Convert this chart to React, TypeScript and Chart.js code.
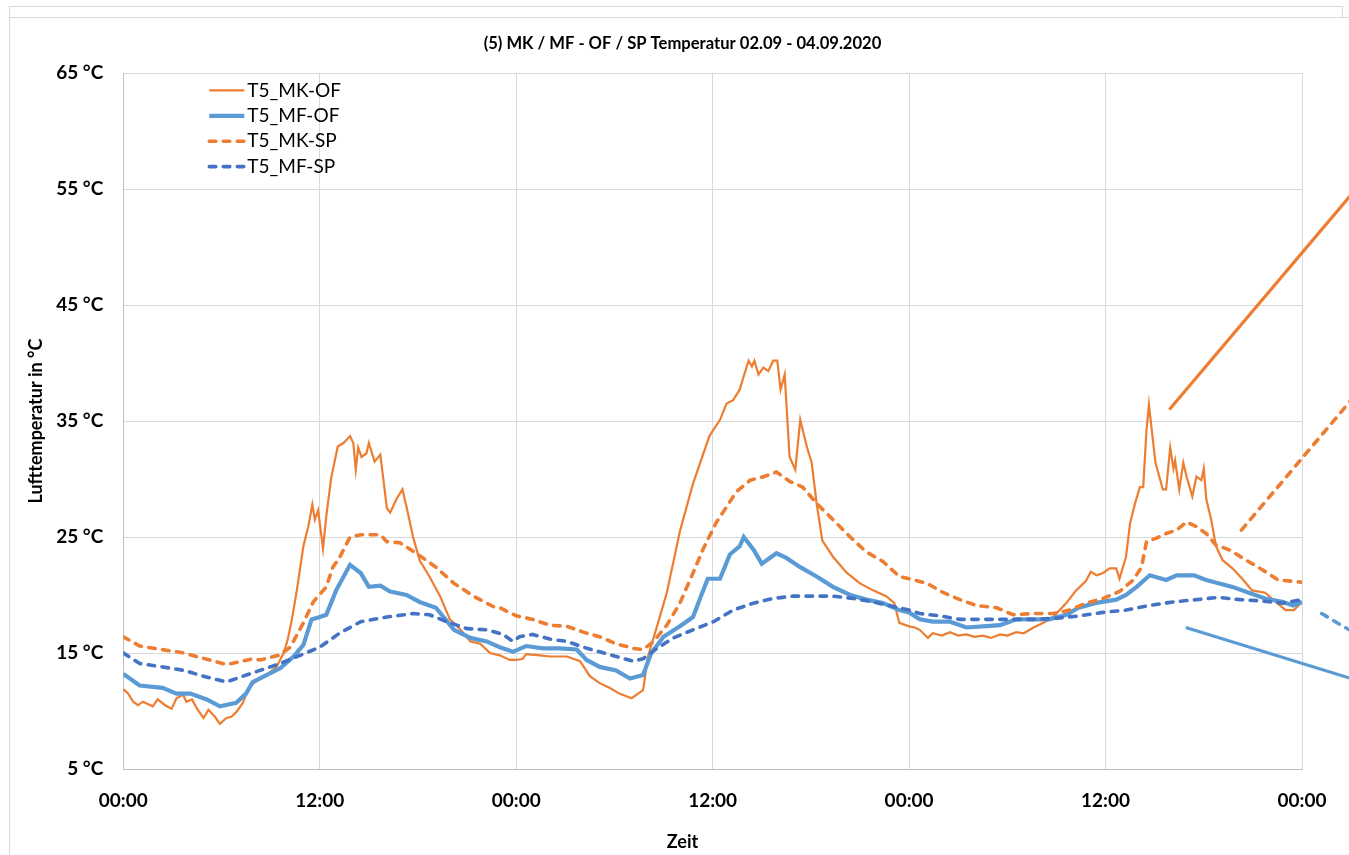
import React, { useEffect, useRef } from 'react';
import { Chart, registerables } from 'chart.js';

Chart.register(...registerables);

// ---------- data (hours since 02.09 00:00, °C) ----------
const mkOfHours = [0, 0.3, 0.6, 0.9, 1.2, 1.8, 2.1, 2.55, 2.95, 3.25, 3.65, 3.85, 4.2, 4.5, 4.9, 5.2, 5.6, 5.9, 6.3, 6.6, 6.9, 7.3, 7.7, 8.25, 8.75, 9.35, 9.8, 10.05, 10.3, 10.6, 11.0, 11.3, 11.55, 11.7, 11.9, 12.2, 12.4, 12.7, 13.1, 13.45, 13.85, 14.05, 14.2, 14.35, 14.55, 14.85, 15.0, 15.35, 15.7, 16.1, 16.3, 16.7, 17.05, 17.3, 17.7, 18.1, 18.7, 19.35, 19.95, 20.55, 21.2, 21.8, 22.4, 23.0, 23.6, 24.0, 24.4, 24.6, 25.45, 26.05, 27.1, 27.9, 28.5, 29.1, 29.7, 30.3, 31.05, 31.75, 32.05, 32.6, 33.2, 34.0, 34.8, 35.8, 36.45, 36.85, 37.25, 37.65, 37.95, 38.2, 38.4, 38.55, 38.8, 39.1, 39.4, 39.7, 39.95, 40.15, 40.4, 40.7, 41.05, 41.35, 41.75, 42.05, 42.35, 42.7, 43.35, 44.2, 45.0, 45.8, 46.6, 47.1, 47.4, 48.0, 48.35, 48.65, 49.15, 49.45, 50.0, 50.5, 51.0, 51.5, 52.0, 52.5, 53.0, 53.55, 54.0, 54.55, 55.0, 55.6, 56.2, 56.8, 57.6, 58.2, 58.8, 59.1, 59.45, 59.85, 60.25, 60.65, 60.85, 61.25, 61.5, 61.8, 62.1, 62.3, 62.5, 62.65, 62.8, 63.05, 63.5, 63.7, 63.95, 64.15, 64.25, 64.5, 64.75, 64.95, 65.3, 65.55, 65.85, 66.0, 66.15, 66.45, 66.75, 67.15, 67.75, 68.35, 68.95, 69.75, 70.4, 71.0, 71.5, 72.0];
const mkOfTemps = [11.9, 11.5, 10.8, 10.5, 10.8, 10.4, 11.0, 10.5, 10.2, 11.1, 11.4, 10.8, 11.0, 10.2, 9.4, 10.1, 9.5, 8.9, 9.4, 9.5, 9.9, 10.7, 12.1, 12.7, 13.1, 13.8, 15.0, 16.2, 17.9, 20.4, 24.2, 25.9, 27.8, 26.5, 27.3, 24.0, 26.8, 30.1, 32.8, 33.1, 33.7, 33.1, 30.8, 32.7, 31.9, 32.2, 33.1, 31.5, 32.1, 27.5, 27.1, 28.3, 29.1, 27.6, 25.0, 23.0, 21.6, 19.9, 17.9, 17.1, 16.0, 15.8, 15.0, 14.8, 14.4, 14.4, 14.5, 14.9, 14.8, 14.7, 14.7, 14.3, 13.0, 12.4, 12.0, 11.5, 11.1, 11.8, 14.7, 17.3, 20.2, 25.5, 29.6, 33.7, 35.1, 36.5, 36.8, 37.7, 39.1, 40.2, 39.7, 40.2, 39.0, 39.6, 39.3, 40.2, 40.2, 37.7, 39.0, 31.9, 30.8, 35.1, 32.8, 31.4, 27.9, 24.7, 23.3, 21.9, 21.0, 20.4, 19.9, 19.3, 17.6, 17.3, 17.2, 17.0, 16.3, 16.7, 16.5, 16.8, 16.5, 16.6, 16.4, 16.5, 16.3, 16.6, 16.5, 16.8, 16.7, 17.2, 17.6, 18.1, 19.3, 20.4, 21.2, 22.0, 21.7, 21.9, 22.3, 22.3, 21.4, 23.3, 26.2, 27.9, 29.3, 29.3, 34.2, 36.4, 34.5, 31.4, 29.1, 29.1, 32.7, 30.9, 31.6, 29.1, 31.4, 30.2, 28.5, 30.2, 29.9, 30.9, 28.3, 26.5, 24.2, 23.0, 22.3, 21.4, 20.4, 20.2, 19.4, 18.7, 18.7, 19.4];

const mfOfHours = [0, 1, 2.4, 3.25, 4.1, 5.1, 5.9, 6.9, 7.5, 7.9, 8.75, 9.6, 10.4, 11.0, 11.5, 12.0, 12.4, 13.0, 13.85, 14.5, 15.0, 15.7, 16.3, 17.3, 18.1, 19.1, 20.2, 21.2, 22.2, 23.0, 23.8, 24.6, 25.65, 26.65, 27.7, 28.3, 29.1, 30.1, 30.95, 31.75, 32.25, 33.0, 34.0, 34.8, 35.2, 35.7, 36.45, 37.05, 37.65, 37.9, 38.5, 39.0, 39.9, 40.5, 41.35, 42.35, 43.35, 44.4, 45.4, 46.4, 47.4, 48.0, 48.65, 49.45, 50.5, 51.5, 52.5, 53.55, 54.55, 55.6, 56.55, 57.6, 58.35, 59.35, 60.65, 61.25, 61.9, 62.7, 63.7, 64.35, 65.4, 66.15, 66.95, 67.75, 68.75, 69.75, 70.85, 71.45, 72.0];
const mfOfTemps = [13.2, 12.2, 12.0, 11.5, 11.5, 11.0, 10.4, 10.7, 11.5, 12.5, 13.1, 13.7, 14.7, 15.7, 17.9, 18.1, 18.3, 20.4, 22.6, 21.9, 20.7, 20.8, 20.3, 20.0, 19.4, 18.9, 17.0, 16.3, 16.0, 15.5, 15.1, 15.6, 15.4, 15.4, 15.3, 14.4, 13.8, 13.5, 12.8, 13.1, 15.0, 16.4, 17.3, 18.1, 19.6, 21.4, 21.4, 23.5, 24.2, 25.0, 23.9, 22.7, 23.6, 23.2, 22.4, 21.6, 20.7, 20.0, 19.6, 19.3, 18.7, 18.5, 17.9, 17.7, 17.7, 17.2, 17.3, 17.4, 17.9, 17.9, 17.9, 18.3, 18.9, 19.3, 19.6, 20.0, 20.7, 21.7, 21.3, 21.7, 21.7, 21.3, 21.0, 20.7, 20.2, 19.7, 19.4, 19.1, 19.4];

const mkSpHours = [0, 1, 3.7, 6.3, 7.9, 8.35, 9.5, 10.2, 11.0, 11.6, 12.4, 12.8, 13.2, 13.85, 14.5, 15.7, 16.1, 16.9, 17.9, 19.1, 20.2, 21.4, 22.6, 23.0, 24.0, 25.0, 26.05, 27.1, 28.1, 29.1, 30.1, 31.15, 31.75, 32.4, 33.2, 34.0, 34.8, 35.4, 36.2, 36.85, 37.45, 38.3, 39.1, 39.9, 40.7, 41.5, 42.35, 43.35, 44.4, 45.4, 46.4, 47.4, 48.0, 49.1, 50.1, 51.1, 52.1, 53.35, 54.35, 55.6, 56.8, 57.8, 58.8, 59.85, 60.85, 61.7, 62.2, 62.5, 63.1, 63.7, 64.35, 64.95, 65.55, 66.15, 66.75, 67.55, 68.6, 69.55, 70.55, 72.0];
const mkSpTemps = [16.4, 15.6, 15.0, 14.0, 14.5, 14.4, 14.8, 15.5, 17.6, 19.4, 20.7, 22.4, 23.2, 25.0, 25.2, 25.2, 24.6, 24.5, 23.6, 22.4, 21.0, 19.9, 19.0, 18.9, 18.2, 17.9, 17.4, 17.3, 16.8, 16.4, 15.8, 15.4, 15.3, 16.0, 17.4, 19.3, 21.9, 23.9, 26.2, 27.6, 28.9, 29.9, 30.2, 30.6, 29.8, 29.3, 27.9, 26.5, 25.0, 23.7, 22.9, 21.6, 21.4, 21.0, 20.2, 19.6, 19.1, 18.9, 18.3, 18.4, 18.4, 18.7, 19.3, 19.7, 20.3, 21.3, 22.4, 24.6, 24.9, 25.3, 25.6, 26.3, 25.9, 25.3, 24.3, 23.9, 23.0, 22.2, 21.3, 21.1];

const mfSpHours = [0, 1, 2.4, 3.7, 4.9, 6.3, 7.3, 8.35, 9.6, 10.8, 12.0, 13.2, 14.5, 16.1, 17.7, 18.7, 19.75, 21.0, 22.2, 23.2, 23.8, 24.2, 25.0, 26.05, 27.1, 28.1, 29.1, 30.1, 31.15, 31.75, 32.6, 33.6, 34.8, 36.05, 37.25, 38.5, 39.7, 40.9, 42.15, 43.35, 44.6, 45.8, 47.05, 48.0, 48.65, 49.9, 51.1, 52.5, 53.95, 55.6, 57.0, 58.4, 59.85, 61.25, 62.7, 64.1, 65.55, 66.9, 68.2, 69.4, 70.85, 72.0];
const mfSpTemps = [15.0, 14.1, 13.8, 13.5, 13.0, 12.5, 13.0, 13.5, 14.1, 14.8, 15.5, 16.7, 17.7, 18.1, 18.4, 18.3, 17.7, 17.1, 17.0, 16.6, 16.0, 16.4, 16.6, 16.2, 16.0, 15.5, 15.1, 14.7, 14.3, 14.5, 15.4, 16.3, 17.0, 17.7, 18.7, 19.3, 19.7, 19.9, 19.9, 19.9, 19.7, 19.4, 19.0, 18.7, 18.4, 18.2, 17.9, 17.9, 17.9, 17.9, 18.0, 18.2, 18.5, 18.7, 19.1, 19.4, 19.6, 19.8, 19.6, 19.5, 19.3, 19.6];

// stray straight segments that run off the right edge of the picture
const mkOfStrayHours = [63.9, 75];
const mkOfStrayTemps = [36.0, 54.5];
const mkSpStrayHours = [68.3, 75];
const mkSpStrayTemps = [25.6, 36.8];
const mfOfStrayHours = [64.9, 75];
const mfOfStrayTemps = [17.2, 12.8];
const mfSpStrayHours = [73.2, 75];
const mfSpStrayTemps = [18.4, 16.9];

const xTicks = [0, 12, 24, 36, 48, 60, 72];
const xTickLabels = ['00:00', '12:00', '00:00', '12:00', '00:00', '12:00', '00:00'];

const ORANGE = '#ED7D31';
const LIGHTBLUE = '#5B9BD5';
const BLUE = '#4472C4';
const FONT = 'Lato';

const pts = (xs: number[], ys: number[]) => xs.map((x, i) => ({ x, y: ys[i] }));

const legendPlugin = {
  id: 'insideLegend',
  afterDraw(chart: any) {
    const { ctx, chartArea } = chart;
    const items = chart.data.datasets.slice(0, 4);
    ctx.save();
    ctx.font = `19px ${FONT}`;
    ctx.textBaseline = 'middle';
    ctx.textAlign = 'left';
    items.forEach((ds: any, i: number) => {
      const y = chartArea.top + 17.4 + i * 25.4;
      const x0 = chartArea.left + 86;
      ctx.strokeStyle = ds.borderColor;
      ctx.lineWidth = ds.borderWidth;
      ctx.lineCap = ds.borderCapStyle || 'butt';
      ctx.setLineDash(ds.borderDash || []);
      ctx.beginPath();
      ctx.moveTo(x0, y);
      ctx.lineTo(x0 + 35, y);
      ctx.stroke();
      ctx.setLineDash([]);
      ctx.fillStyle = '#000';
      ctx.fillText(ds.label, x0 + 38, y);
    });
    ctx.restore();
  },
};

export default function App() {
  const ref = useRef<HTMLCanvasElement>(null);
  useEffect(() => {
    const solid = { pointRadius: 0, tension: 0, fill: false, yAxisID: 'y' };
    const dashed = { ...solid, borderDash: [6.5, 7.5], borderCapStyle: 'round', borderWidth: 3.6 };
    const chart = new Chart(ref.current as HTMLCanvasElement, {
      type: 'line',
      data: {
        datasets: [
          { ...solid, label: 'T5_MK-OF', data: pts(mkOfHours, mkOfTemps), borderColor: ORANGE, borderWidth: 2.2, order: 4 },
          { ...solid, label: 'T5_MF-OF', data: pts(mfOfHours, mfOfTemps), borderColor: LIGHTBLUE, borderWidth: 4.2, order: 3 },
          { ...dashed, label: 'T5_MK-SP', data: pts(mkSpHours, mkSpTemps), borderColor: ORANGE, order: 2 },
          { ...dashed, label: 'T5_MF-SP', data: pts(mfSpHours, mfSpTemps), borderColor: BLUE, order: 1 },
          { ...solid, label: '', data: pts(mkOfStrayHours, mkOfStrayTemps), borderColor: ORANGE, borderWidth: 3.2, clip: false },
          { ...dashed, label: '', data: pts(mkSpStrayHours, mkSpStrayTemps), borderColor: ORANGE, clip: false },
          { ...solid, label: '', data: pts(mfOfStrayHours, mfOfStrayTemps), borderColor: LIGHTBLUE, borderWidth: 3.2, clip: false },
          { ...dashed, label: '', data: pts(mfSpStrayHours, mfSpStrayTemps), borderColor: LIGHTBLUE, clip: false },
        ] as any,
      },
      options: {
        animation: false,
        responsive: false,
        events: [],
        layout: { padding: { left: 16, right: 0, top: 0, bottom: 0 } },
        plugins: {
          legend: { display: false },
          tooltip: { enabled: false },
          title: {
            display: true,
            text: '(5) MK / MF - OF / SP Temperatur 02.09 - 04.09.2020',
            color: '#000',
            font: { family: FONT, size: 16.6, weight: 'bold' },
            padding: { top: 34, bottom: 19.1 },
          },
          subtitle: {
            display: true,
            position: 'bottom',
            text: 'Zeit',
            color: '#000',
            font: { family: FONT, size: 18, weight: 'bold' },
            padding: { top: 10, bottom: 2 },
          },
        },
        scales: {
          x: {
            type: 'linear',
            min: 0,
            max: 72,
            afterBuildTicks: (s: any) => {
              s.ticks = xTicks.map((v) => ({ value: v }));
            },
            ticks: {
              autoSkip: false,
              maxRotation: 0,
              padding: 20,
              color: '#000',
              font: { family: FONT, size: 19, weight: 'bold' },
              callback: (v: any) => xTickLabels[xTicks.indexOf(Number(v))] ?? '',
            },
            grid: { color: '#d9d9d9', lineWidth: 1, drawTicks: false },
            border: { color: '#bfbfbf', width: 1 },
            afterFit: (s: any) => {
              s.height = 52.4;
            },
          },
          y: {
            type: 'linear',
            position: 'left',
            min: 5,
            max: 65,
            ticks: {
              stepSize: 10,
              padding: 20,
              color: '#000',
              font: { family: FONT, size: 19, weight: 'bold' },
              callback: (v: any) => `${v} °C`,
            },
            grid: { color: '#d9d9d9', lineWidth: 1, drawTicks: false },
            border: { color: '#bfbfbf', width: 1 },
            title: {
              display: true,
              text: 'Lufttemperatur in °C',
              color: '#000',
              font: { family: FONT, size: 18, weight: 'bold' },
              padding: { top: 9.5, bottom: 0 },
            },
            afterFit: (s: any) => {
              s.width = 107.3;
            },
          },
          y2: {
            type: 'linear',
            position: 'right',
            display: true,
            ticks: { display: false },
            grid: { display: false, drawTicks: false },
            border: { display: false },
            afterFit: (s: any) => {
              s.width = 47;
            },
          },
        },
      } as any,
      plugins: [legendPlugin],
    });
    return () => chart.destroy();
  }, []);

  const line = (l: number, t: number, w: number, h: number) => (
    <div style={{ position: 'absolute', left: l, top: t, width: w, height: h, background: '#d9d9d9', pointerEvents: 'none' }} />
  );

  return (
    <div style={{ position: 'fixed', left: 0, top: 0, width: 1349, height: 855, background: '#fff', overflow: 'hidden' }}>
      <canvas ref={ref} width={1349} height={855} style={{ position: 'absolute', left: 0, top: 0 }} />
      {line(9, 6, 1334, 1)}
      {line(1342, 6, 1, 12)}
      {line(9, 17, 1340, 1)}
      {line(9, 6, 1, 849)}
    </div>
  );
}
